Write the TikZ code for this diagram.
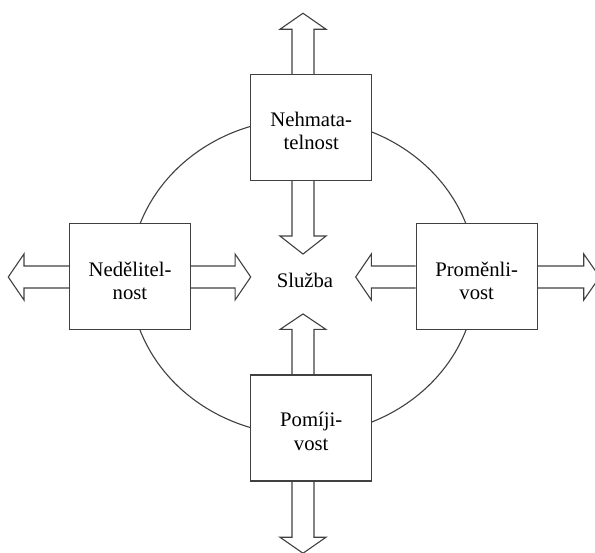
\documentclass[tikz,border=0pt]{standalone}
\usepackage{fontspec}
\setmainfont{Liberation Serif}
\definecolor{ln}{gray}{0.25}
\tikzset{
  box/.style={draw=ln, line width=1.1pt, fill=white, minimum width=121pt, minimum height=106pt, inner sep=0pt},
  lbl/.style={font=\fontsize{20.7}{23.5}\selectfont, align=center, inner sep=0pt, text=black},
  blk/.style={draw=ln, line width=1.1pt, line join=miter},
  pics/barrow/.style 2 args={code={
    \draw[blk] (-11,0) -- (-11,-#1) -- (-23,-#1) -- (0,-#1-#2) -- (23,-#1) -- (11,-#1) -- (11,0);
  }}
}
\begin{document}
\begin{tikzpicture}[x=1pt,y=-1pt]
\clip (0,0) rectangle (595,553);
\coordinate (c) at (303,277);
\draw[draw=ln, line width=1.1pt] (c) ellipse [x radius=173, y radius=158];

\node[box] (top) at (311.2,127.5) {};
\node[box] (left) at (130,276.7) {};
\node[box] (right) at (476.7,276.7) {};
\node[box] (bottom) at (311.2,428) {};

\node[lbl] (ttop) at ([yshift=-3.5pt]top.center) {Nehmata-\\telnost};
\node[lbl] (tleft) at ([yshift=-4pt]left.center) {Nedělitel-\\nost};
\node[lbl] (tright) at ([yshift=-4pt]right.center) {Proměnli-\\vost};
\node[lbl] (tbottom) at ([yshift=-3.5pt]bottom.center) {Pomíji-\\vost};
\node[lbl] (s) at (305,280) {Služba};

\pic at (top.north -| c) {barrow={44.7}{16}};
\pic[rotate=180] at (top.south -| c) {barrow={55}{18}};
\pic at (bottom.north -| c) {barrow={45}{15.5}};
\pic[rotate=180] at (bottom.south -| c) {barrow={55.7}{16}};
\pic[rotate=90] at (left.west |- c) {barrow={45}{15.7}};
\pic[rotate=-90] at (left.east |- c) {barrow={44}{15.7}};
\pic[rotate=90] at (right.west |- c) {barrow={44.3}{15.7}};
\pic[rotate=-90] at (right.east |- c) {barrow={46}{16}};
\end{tikzpicture}
\end{document}
